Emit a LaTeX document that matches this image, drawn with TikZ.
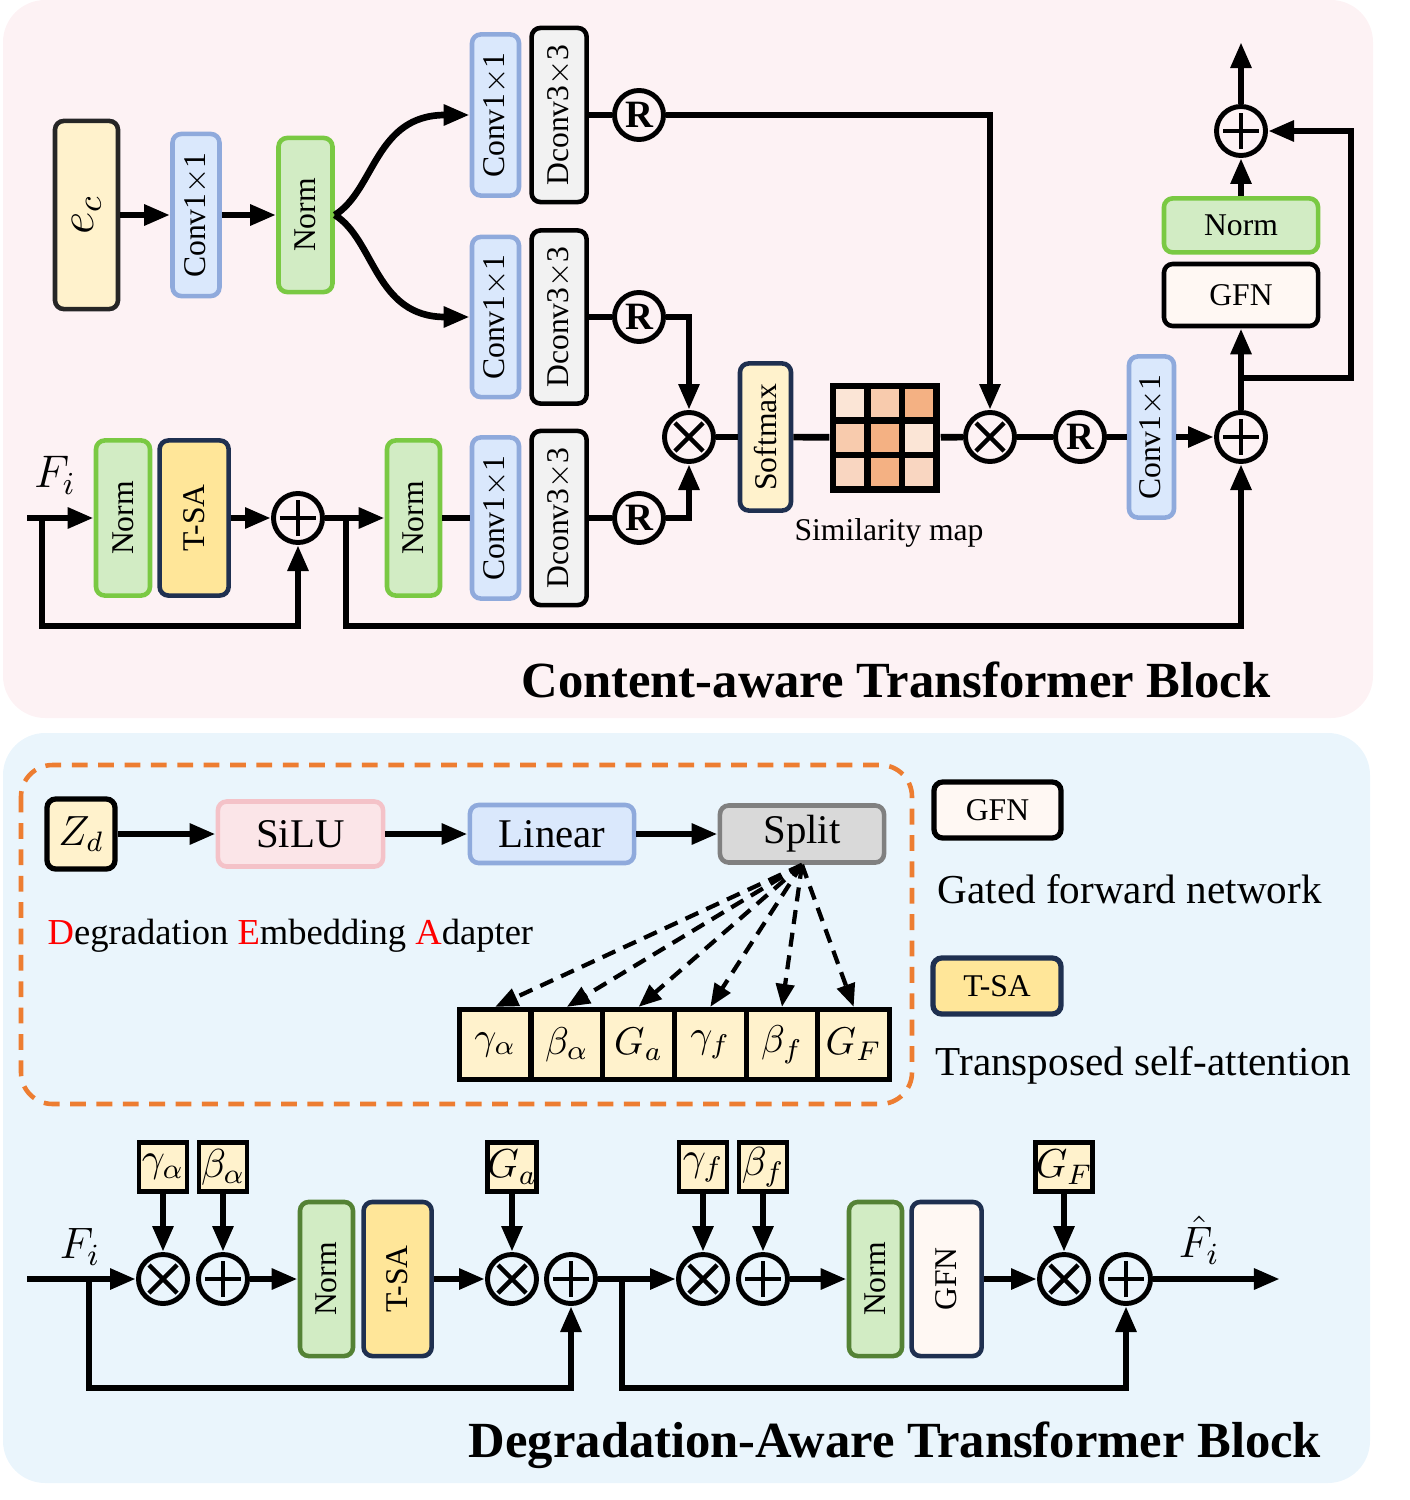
\RequirePackage{fix-cm}
\documentclass[tikz,border=0pt]{standalone}
\usepackage{fontspec}
\setmainfont{Liberation Serif}
\usepackage{amsmath}
\usetikzlibrary{arrows.meta, positioning, calc}
\definecolor{topbg}{HTML}{FDF2F4}
\definecolor{botbg}{HTML}{EAF5FC}
\definecolor{lightyellow}{HTML}{FFF2CC}
\definecolor{tsayellow}{HTML}{FFE699}
\definecolor{lightblue}{HTML}{DAE8FC}
\definecolor{convblue}{HTML}{8FAADC}
\definecolor{lightgreen}{HTML}{D2ECC4}
\definecolor{normgreen}{HTML}{7AC943}
\definecolor{darkgreen}{HTML}{548235}
\definecolor{navy}{HTML}{1F3050}
\definecolor{dconvgray}{HTML}{F2F2F2}
\definecolor{gfnwhite}{HTML}{FFF8F3}
\definecolor{silupink}{HTML}{FBE5E8}
\definecolor{siluedge}{HTML}{F4C2C8}
\definecolor{splitgray}{HTML}{D9D9D9}
\definecolor{splitedge}{HTML}{808080}
\definecolor{dashorange}{HTML}{ED7D31}
\definecolor{simA}{HTML}{FBE5D6}
\definecolor{simB}{HTML}{F8CBAD}
\definecolor{simC}{HTML}{F4B183}
\definecolor{simD}{HTML}{F9D6C1}
\newcommand{\vtext}[1]{\rotatebox{90}{#1}}

\begin{document}
\begin{tikzpicture}[
  x=0.01cm, y=-0.01cm,
  blk/.style={rectangle, rounded corners=2.5pt, line width=1.3pt, inner sep=0pt, font=\fontsize{9}{10}\selectfont},
  convbox/.style={blk, draw=convblue, fill=lightblue},
  normbox/.style={blk, draw=normgreen, fill=lightgreen},
  dnormbox/.style={blk, draw=darkgreen, fill=lightgreen},
  dconvbox/.style={blk, draw=black, fill=dconvgray},
  tsabox/.style={blk, draw=navy, fill=tsayellow},
  gfnbox/.style={blk, draw=black, fill=gfnwhite},
  wbox/.style={blk, font=\fontsize{11.6}{13}\selectfont},
  pbox/.style={rectangle, draw=black, fill=lightyellow, line width=1.3pt, inner sep=0pt, minimum width=0.48cm, minimum height=0.49cm, font=\fontsize{11.5}{12}\selectfont},
  pcell/.style={rectangle, draw=black, fill=lightyellow, line width=1.5pt, inner sep=0pt, minimum width=0.717cm, minimum height=0.70cm, font=\fontsize{11}{12}\selectfont},
  opc/.style={circle, draw=black, line width=1.4pt, minimum size=0.49cm, inner sep=0pt},
  plusop/.style={opc, path picture={
    \draw[line width=1.4pt] ([xshift=-0.18cm]path picture bounding box.center) -- ([xshift=0.18cm]path picture bounding box.center)
      ([yshift=-0.18cm]path picture bounding box.center) -- ([yshift=0.18cm]path picture bounding box.center);}},
  timesop/.style={opc, path picture={
    \draw[line width=1.3pt] ([shift={(-0.14cm,-0.14cm)}]path picture bounding box.center) -- ([shift={(0.14cm,0.14cm)}]path picture bounding box.center)
      ([shift={(-0.14cm,0.14cm)}]path picture bounding box.center) -- ([shift={(0.14cm,-0.14cm)}]path picture bounding box.center);}},
  rop/.style={opc, font=\bfseries\fontsize{11}{12}\selectfont},
  arr/.style={-{Triangle[length=7.4pt,width=5.6pt]}, line width=1.9pt},
  ln/.style={line width=1.9pt},
  darr/.style={-{Triangle[length=6.5pt,width=5.2pt]}, line width=1.2pt, dash pattern=on 4pt off 2.5pt},
  note/.style={anchor=base west, inner sep=0pt},
  title/.style={font=\bfseries\fontsize{14.4}{16}\selectfont, anchor=base}
]
  \useasboundingbox (0,0) rectangle (1409,1500);
  % panels
  \fill[topbg, rounded corners=12pt] (3,0) rectangle (1373,718);
  \fill[botbg, rounded corners=12pt] (3,733) rectangle (1370,1483);

  % ---------- Content-aware Transformer Block ----------
  \node[blk, draw=black!85, fill=lightyellow, minimum width=0.63cm, minimum height=1.88cm, font=\fontsize{14}{15}\selectfont] (ec) at (86.5,215) {\vtext{$e_c$}};
  \node[convbox, minimum width=0.47cm, minimum height=1.62cm] (cva) at (196,215) {\vtext{Conv1$\times$1}};
  \node[normbox, minimum width=0.54cm, minimum height=1.54cm] (nma) at (305.5,215) {\vtext{Norm}};

  \node[convbox, minimum width=0.47cm, minimum height=1.61cm] (cv1) at (495.5,115) {\vtext{Conv1$\times$1}};
  \node[dconvbox, minimum width=0.55cm, minimum height=1.74cm, right=0.08cm of cv1] (dc1) {\vtext{Dconv3$\times$3}};
  \node[rop] (r1) at (639,115) {R};
  \node[convbox, minimum width=0.47cm, minimum height=1.60cm] (cv2) at (495.5,317) {\vtext{Conv1$\times$1}};
  \node[dconvbox, minimum width=0.55cm, minimum height=1.73cm, right=0.08cm of cv2] (dc2) {\vtext{Dconv3$\times$3}};
  \node[rop] (r2) at (639,317) {R};
  \node[convbox, minimum width=0.47cm, minimum height=1.61cm] (cv3) at (495.5,518) {\vtext{Conv1$\times$1}};
  \node[dconvbox, minimum width=0.55cm, minimum height=1.74cm, right=0.08cm of cv3] (dc3) {\vtext{Dconv3$\times$3}};
  \node[rop] (r3) at (639,518) {R};

  \node[font=\fontsize{13}{14}\selectfont] (fia) at (55,475) {$F_i$};
  \coordinate (fin) at (27,518);
  \node[normbox, minimum width=0.54cm, minimum height=1.55cm] (nmb) at (123,518) {\vtext{Norm}};
  \node[tsabox, minimum width=0.69cm, minimum height=1.55cm, right=0.05cm of nmb] (tsa) {\vtext{T-SA}};
  \node[plusop] (ad1) at (298,518) {};
  \node[normbox, minimum width=0.53cm, minimum height=1.55cm] (nmc) at (413.5,518) {\vtext{Norm}};

  \node[timesop] (mu1) at (689,437) {};
  \node[blk, draw=navy, fill=lightyellow, minimum width=0.51cm, minimum height=1.47cm] (smx) at (765.5,437) {\vtext{Softmax}};
  \foreach \r/\c/\col in {0/0/simA,0/1/simB,0/2/simC,1/0/simB,1/1/simC,1/2/simA,2/0/simD,2/1/simC,2/2/simD}
    \draw[line width=1.8pt, fill=\col] (833+34.5*\c,386+34.5*\r) rectangle ++(34.5,34.5);
  \node[minimum size=1.1cm, inner sep=0pt] (sim) at (885,437.5) {};
  \node[font=\fontsize{9}{10}\selectfont, anchor=base] (simlbl) at (889,540) {Similarity map};
  \node[timesop] (mu2) at (990,437) {};
  \node[rop] (r4) at (1080,437) {R};
  \node[convbox, minimum width=0.45cm, minimum height=1.61cm] (cvr) at (1151.5,437) {\vtext{Conv1$\times$1}};
  \node[plusop] (ad2) at (1241,437) {};
  \node[gfnbox, minimum width=1.54cm, minimum height=0.62cm] (gfn) at (1241,295) {GFN};
  \node[normbox, minimum width=1.54cm, minimum height=0.54cm, above=0.07cm of gfn] (nmd) {Norm};
  \node[plusop] (ad3) at (1241,131) {};
  \coordinate (outa) at (1241,42);

  \draw[arr] (ec) -- (cva);
  \draw[arr] (cva) -- (nma);
  \draw[arr] (nma.east) .. controls (375,190) and (375,115) .. (cv1.west);
  \draw[arr] (nma.east) .. controls (375,240) and (375,317) .. (cv2.west);
  \draw[ln] (dc1) -- (r1);
  \draw[ln] (dc2) -- (r2);
  \draw[ln] (dc3) -- (r3);
  \draw[arr] (r1.east) -| (mu2.north);
  \draw[arr] (r2.east) -| (mu1.north);
  \draw[arr] (r3.east) -| (mu1.south);
  \draw[arr] (fin) -- (nmb);
  \draw[arr] (tsa) -- (ad1);
  \coordinate (sp1) at (42,518);
  \draw[arr] (sp1) -- ++(0,108) -| (ad1.south);
  \draw[arr] (ad1) -- (nmc);
  \draw[ln] (nmc) -- (cv3);
  \coordinate (sp2) at (346,518);
  \draw[arr] (sp2) -- ++(0,108) -| (ad2.south);
  \draw[ln] (mu1) -- (smx);
  \draw[ln] (smx) -- (sim);
  \draw[ln] (sim) -- (mu2);
  \draw[ln] (mu2) -- (r4);
  \draw[ln] (r4) -- (cvr);
  \draw[arr] (cvr) -- (ad2);
  \draw[arr] (ad2) -- (gfn);
  \draw[arr] (nmd) -- (ad3);
  \draw[arr] (ad3) -- (outa);
  \coordinate (sk1) at (1241,378);
  \draw[arr] (sk1) -- ++(110,0) |- (ad3.east);

  \node[title] (t1) at (896,697) {Content-aware Transformer Block};

  % ---------- Degradation Embedding Adapter ----------
  \draw[dashorange, line width=1.3pt, dash pattern=on 4.5pt off 3pt, rounded corners=9pt] (21,765) rectangle (912,1104);
  \node[blk, draw=black, fill=lightyellow, line width=1.5pt, minimum width=0.68cm, minimum height=0.70cm, font=\fontsize{12}{13}\selectfont] (zd) at (81,834) {$Z_d$};
  \node[wbox, draw=siluedge, fill=silupink, minimum width=1.65cm, minimum height=0.65cm] (silu) at (300.5,834) {SiLU};
  \node[wbox, draw=convblue, fill=lightblue, minimum width=1.64cm, minimum height=0.58cm] (lin) at (552,834) {Linear};
  \node[wbox, draw=splitedge, fill=splitgray, minimum width=1.64cm, minimum height=0.57cm] (spl) at (802,834) {Split};
  \draw[arr] (zd) -- (silu);
  \draw[arr] (silu) -- (lin);
  \draw[arr] (lin) -- (spl);
  \node[note, font=\fontsize{10.4}{12}\selectfont] (dea) at (47,944)
    {\textcolor{red}{D}egradation \textcolor{red}{E}mbedding \textcolor{red}{A}dapter};
  \foreach \nm/\lb [count=\k from 0] in {pga/\gamma_\alpha, pba/\beta_\alpha, pGa/G_a, pgf/\gamma_f, pbf/\beta_f, pGF/G_F}
    \node[pcell] (\nm) at (495.2+71.7*\k,1044.5) {$\lb$};
  \foreach \nm in {pga,pba,pGa,pgf,pbf,pGF}
    \draw[darr] (spl.south) -- (\nm.north);

  % legend
  \node[gfnbox, line width=1.5pt, minimum width=1.27cm, minimum height=0.56cm] (lgfn) at (997.5,810) {GFN};
  \node[note, font=\fontsize{11.7}{13}\selectfont] (lgfntxt) at (937,903) {Gated forward network};
  \node[tsabox, line width=1.5pt, minimum width=1.28cm, minimum height=0.56cm] (ltsa) at (997,986) {T-SA};
  \node[note, font=\fontsize{11.7}{13}\selectfont] (ltsatxt) at (935,1075) {Transposed self-attention};

  % ---------- Degradation-Aware Transformer Block ----------
  \node[font=\fontsize{12.5}{14}\selectfont] (fib) at (80,1247) {$F_i$};
  \coordinate (fin2) at (27,1279);
  \node[timesop] (mua) at (163,1279) {};
  \node[plusop] (ada) at (223,1279) {};
  \node[pbox, above=0.58cm of mua] (bga) {$\gamma_\alpha$};
  \node[pbox, above=0.58cm of ada] (bba) {$\beta_\alpha$};
  \node[dnormbox, minimum width=0.53cm, minimum height=1.54cm] (nme) at (326.5,1279) {\vtext{Norm}};
  \node[tsabox, minimum width=0.68cm, minimum height=1.54cm, right=0.06cm of nme] (tsb) {\vtext{T-SA}};
  \node[timesop] (mub) at (512,1279) {};
  \node[plusop] (adb) at (571,1279) {};
  \node[pbox, above=0.58cm of mub] (bGa) {$G_a$};
  \node[timesop] (muc) at (703,1279) {};
  \node[plusop] (adc) at (763,1279) {};
  \node[pbox, above=0.58cm of muc] (bgf) {$\gamma_f$};
  \node[pbox, above=0.58cm of adc] (bbf) {$\beta_f$};
  \node[dnormbox, minimum width=0.53cm, minimum height=1.54cm] (nmf) at (875.5,1279) {\vtext{Norm}};
  \node[blk, draw=navy, fill=gfnwhite, minimum width=0.70cm, minimum height=1.54cm, right=0.05cm of nmf] (gfb) {\vtext{GFN}};
  \node[timesop] (mud) at (1064,1279) {};
  \node[plusop] (add) at (1126,1279) {};
  \node[pbox, above=0.58cm of mud] (bGF) {$G_F$};
  \coordinate (out2) at (1280,1279);
  \node[font=\fontsize{12.5}{14}\selectfont] (fhat) at (1199,1240) {$\hat{F}_i$};

  \draw[arr] (fin2) -- (mua);
  \draw[arr] (ada) -- (nme);
  \draw[arr] (tsb) -- (mub);
  \draw[arr] (adb) -- (muc);
  \draw[arr] (adc) -- (nmf);
  \draw[arr] (gfb) -- (mud);
  \draw[arr] (add) -- (out2);
  \foreach \p/\o in {bga/mua, bba/ada, bGa/mub, bgf/muc, bbf/adc, bGF/mud}
    \draw[arr] (\p) -- (\o);
  \coordinate (sp3) at (89,1279);
  \draw[arr] (sp3) -- ++(0,109) -| (adb.south);
  \coordinate (sp4) at (622,1279);
  \draw[arr] (sp4) -- ++(0,109) -| (add.south);

  \node[title] (t2) at (895,1457) {Degradation-Aware Transformer Block};
\end{tikzpicture}
\end{document}
